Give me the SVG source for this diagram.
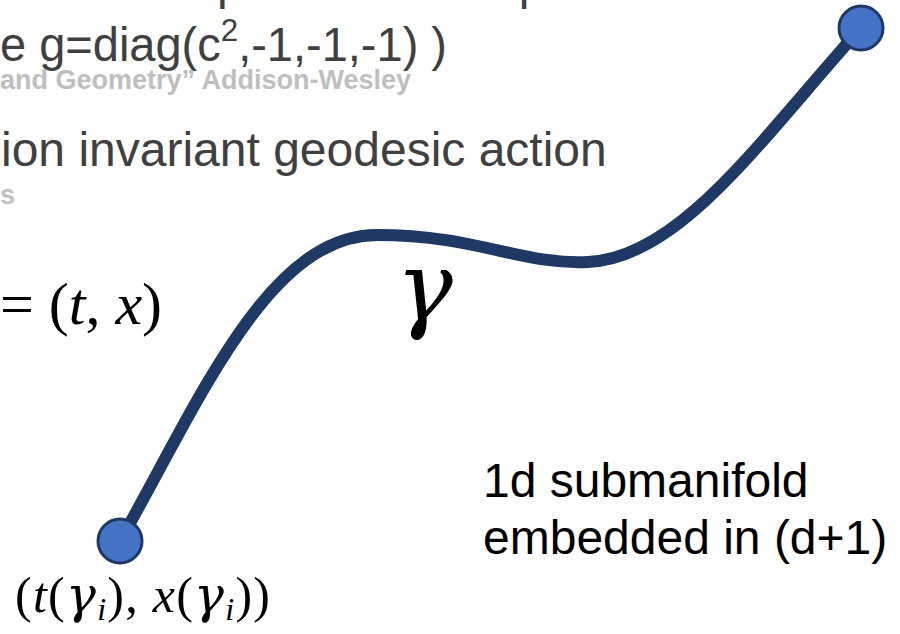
<svg xmlns="http://www.w3.org/2000/svg" width="900" height="634" viewBox="0 0 900 634">
  <style>
    .slide { font-family: "Liberation Sans", Arial, sans-serif; font-size: 48px; fill: #404040; }
    .ref { font-family: "Liberation Sans", Arial, sans-serif; font-size: 27px; font-weight: bold; fill: #bfbfbf; }
    .label { font-family: "Liberation Sans", Arial, sans-serif; font-size: 48px; fill: #000000; }
    .math { font-family: "Liberation Serif", "Times New Roman", serif; fill: #000000; }
    .greek { font-family: "DejaVu Serif", "Liberation Serif", serif; font-style: italic; }
    .it { font-style: italic; }
    .pt { fill: #4472c4; stroke: #1f3864; stroke-width: 3; }
    .curve { fill: none; stroke: #1f3864; stroke-width: 12; stroke-linecap: round; }
  </style>
  <rect width="900" height="634" fill="#ffffff"/>

  <g id="slide-text">
    <text class="slide" x="33" y="-1">shortest path between points</text>
    <text class="slide" x="0" y="61" font-size="58" textLength="447" lengthAdjust="spacingAndGlyphs">e g=diag(c<tspan font-size="32" dy="-20">2</tspan><tspan dy="20">,-1,-1,-1) )</tspan></text>
    <text class="ref" x="0" y="89">and Geometry” Addison-Wesley</text>
    <text class="slide" x="1" y="166">ion invariant geodesic action</text>
    <text class="ref" x="0" y="204">s</text>
  </g>

  <g id="connectors">
    <path id="gamma-curve" class="curve" d="M120,541 C200,400 268,235 377,235 C478,235 520,265 588,262 C680,258 760,140 861,28"/>
  </g>

  <g id="math-eq">
    <text class="math" font-size="60" x="0" y="324" textLength="162" lengthAdjust="spacing">= (<tspan class="it">t</tspan>, <tspan class="it">x</tspan>)</text>
  </g>

  <g id="gamma-label">
    <text class="math greek" font-size="95" x="396" y="320">γ</text>
  </g>

  <g id="start-point">
    <circle class="pt" cx="120" cy="541" r="22"/>
    <text class="math" font-size="50" x="15" y="612" textLength="255" lengthAdjust="spacing">(<tspan class="it">t</tspan>(<tspan class="greek">γ</tspan><tspan class="it" font-size="32" dy="8">i</tspan><tspan dy="-8">), </tspan><tspan class="it">x</tspan>(<tspan class="greek">γ</tspan><tspan class="it" font-size="32" dy="8">i</tspan><tspan dy="-8">))</tspan></text>
  </g>

  <g id="end-point">
    <circle class="pt" cx="861" cy="28" r="22"/>
  </g>

  <g id="manifold-label">
    <text class="label" x="483" y="497">1d submanifold</text>
    <text class="label" x="483" y="554">embedded in (d+1)</text>
  </g>
</svg>
